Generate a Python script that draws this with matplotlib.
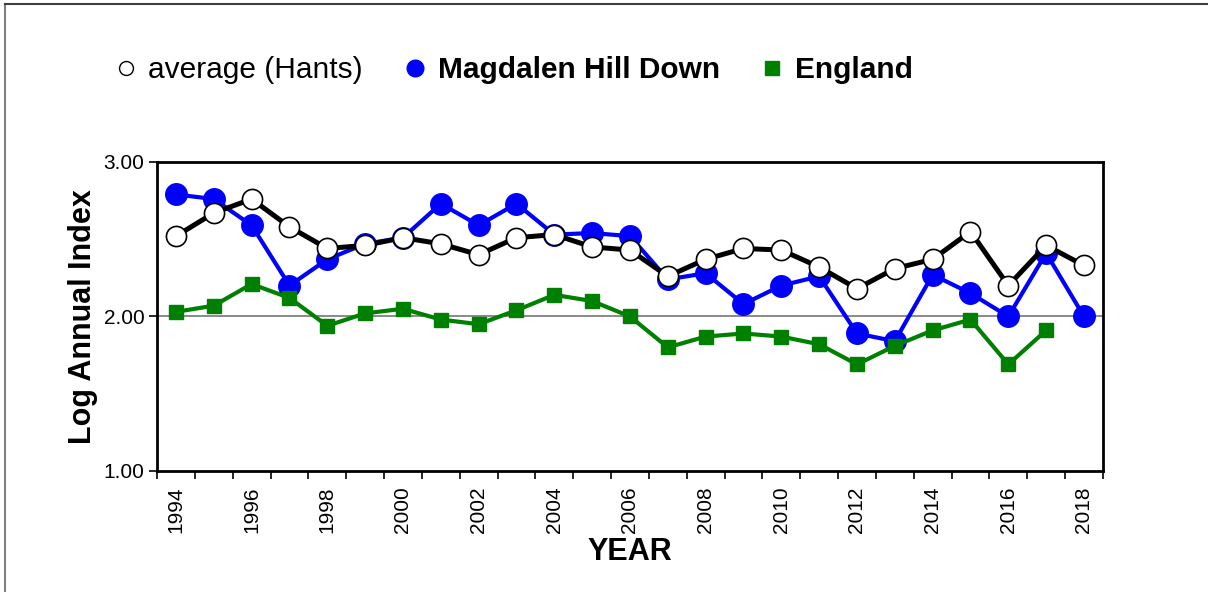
import numpy as np
import matplotlib
matplotlib.use("Agg")
import matplotlib.pyplot as plt
from matplotlib.lines import Line2D

plt.rcParams['font.family'] = ['Liberation Sans', 'DejaVu Sans']

# data
years = list(range(1994, 2019))
hants_avg = [2.52, 2.67, 2.76, 2.58, 2.44, 2.46, 2.51, 2.47, 2.40, 2.51, 2.53, 2.45, 2.43,
             2.26, 2.37, 2.44, 2.43, 2.32, 2.18, 2.31, 2.37, 2.55, 2.20, 2.46, 2.33]
magdalen = [2.79, 2.76, 2.59, 2.20, 2.37, 2.47, 2.51, 2.73, 2.59, 2.73, 2.53, 2.54, 2.52,
            2.24, 2.28, 2.08, 2.20, 2.26, 1.89, 1.84, 2.27, 2.15, 2.00, 2.41, 2.00]
england = [2.03, 2.07, 2.21, 2.12, 1.94, 2.02, 2.05, 1.98, 1.95, 2.04, 2.14, 2.10, 2.00,
           1.80, 1.87, 1.89, 1.87, 1.82, 1.69, 1.81, 1.91, 1.98, 1.69, 1.91, np.nan]
y_ticks = [1.0, 2.0, 3.0]

x = np.arange(len(years))

fig = plt.figure(figsize=(12.08, 5.92), dpi=100)
ax = fig.add_axes([0.130, 0.2044, 0.783, 0.522])

ax.axhline(2.0, color='#808080', lw=1.3, zorder=1)

ax.plot(x, magdalen, color='#0000ff', lw=3, marker='o', ms=15.5,
        mfc='#0000ff', mec='#0000ff', zorder=3)
ax.plot(x, england, color='#008000', lw=3, marker='s', ms=9.5,
        mfc='#008000', mec='#008000', zorder=4)
ax.plot(x, hants_avg, color='black', lw=3.6, marker='o', ms=14.5,
        mfc='white', mec='black', mew=1.2, zorder=5)

ax.set_xlim(-0.5, len(years) - 0.5)
ax.set_ylim(1.0, 3.0)
ax.set_yticks(y_ticks)
ax.set_yticklabels(['%.2f' % v for v in y_ticks], fontsize=15)

ax.set_xticks(x)
ax.set_xticklabels([str(y) if y % 2 == 0 else '' for y in years],
                   rotation=90, fontsize=15)
ax.set_xticks(np.arange(-0.5, len(years)), minor=True)
ax.tick_params(axis='x', which='major', length=0, pad=11)
ax.tick_params(axis='x', which='minor', length=6, width=1.2, direction='out')
ax.tick_params(axis='y', length=6, width=1.2, direction='out', pad=3)

for s in ax.spines.values():
    s.set_linewidth(2)
    s.set_color('black')

ax.set_xlabel('YEAR', fontsize=22, fontweight='bold', labelpad=3)
ax.set_ylabel('Log Annual Index', fontsize=22, fontweight='bold', labelpad=4)

handles = [
    Line2D([], [], ls='none', marker='o', ms=10, mfc='white', mec='black', mew=1),
    Line2D([], [], ls='none', marker='o', ms=12, mfc='#0000ff', mec='#0000ff'),
    Line2D([], [], ls='none', marker='s', ms=10, mfc='#008000', mec='#008000'),
]
labels = ['average (Hants)', 'Magdalen Hill Down', 'England']
leg = fig.legend(handles, labels, loc='center', ncol=3, frameon=False,
                 bbox_to_anchor=(514 / 1208, 1 - 70 / 592), fontsize=21.5,
                 handlelength=0.7, handletextpad=0.4, columnspacing=1.4)
leg.get_texts()[1].set_fontweight('bold')
leg.get_texts()[2].set_fontweight('bold')

# frame lines on the left and top edges only
fig.add_artist(Line2D([0.0045, 0.0045], [0.0, 0.993], transform=fig.transFigure,
                      color='#808080', lw=1.5))
fig.add_artist(Line2D([0.0045, 1.0], [0.993, 0.993], transform=fig.transFigure,
                      color='#404040', lw=1.5))

fig.savefig('out.png', dpi=100)
